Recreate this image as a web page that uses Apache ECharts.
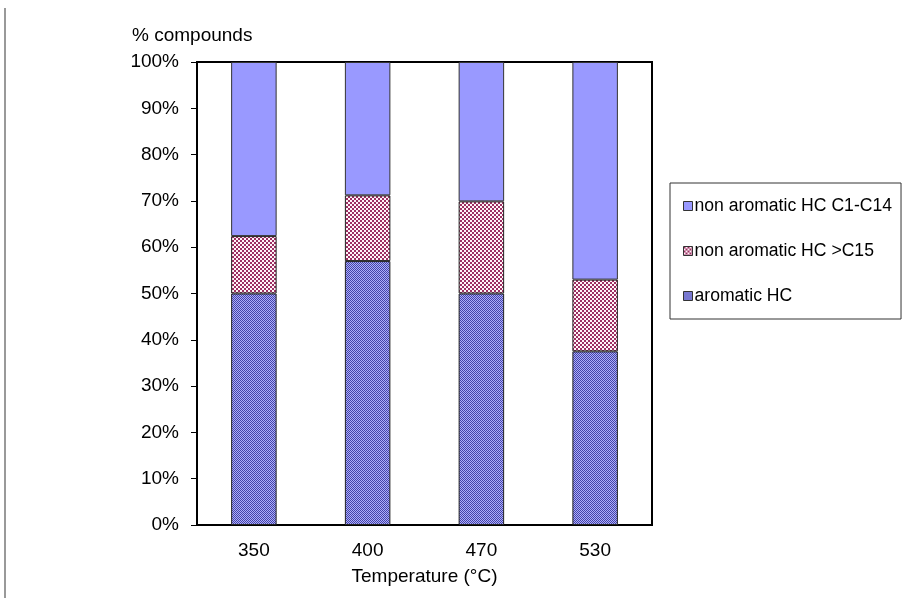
<!DOCTYPE html>
<html>
<head>
<meta charset="utf-8">
<style>
  html, body { margin: 0; padding: 0; background: #fff; }
  #chart { width: 918px; height: 604px; }
</style>
<script src="https://cdn.jsdelivr.net/npm/echarts@6/dist/echarts.min.js"></script>
</head>
<body>
<div id="chart"></div>
<script>
// Temperatures (°C) on the category axis
const temperatures = ['350', '400', '470', '530'];
// Share of each compound class, % of total (stacked to 100)
const aromaticHC = [50, 57, 50, 37.5];
const nonAromaticC15 = [12.4, 14.2, 19.9, 15.5];
const nonAromaticC1C14 = [37.6, 28.8, 30.1, 47.0];
const seriesNames = ['aromatic HC', 'non aromatic HC >C15', 'non aromatic HC C1-C14'];

// Small checkerboard tiles used as bar fills
function checker(size, cell, c1, c2) {
  const cv = document.createElement('canvas');
  cv.width = size; cv.height = size;
  const ctx = cv.getContext('2d');
  ctx.fillStyle = c2;
  ctx.fillRect(0, 0, size, size);
  ctx.fillStyle = c1;
  for (let y = 0; y < size; y += cell) {
    for (let x = 0; x < size; x += cell) {
      if (((x / cell) + (y / cell)) % 2 === 0) ctx.fillRect(x, y, cell, cell);
    }
  }
  return { image: cv, repeat: 'repeat' };
}
const maroonChecker = checker(4, 2, '#9c2f62', '#fff4f8');
const blueChecker = checker(2, 1, '#4444a8', '#adadfa');

const font = 'Liberation Sans, Arial, sans-serif';
const chart = echarts.init(document.getElementById('chart'), null, { renderer: 'canvas' });

chart.setOption({
  animation: false,
  backgroundColor: '#fff',
  title: {
    text: '% compounds',
    left: 132,
    top: 26,
    padding: 0,
    textStyle: { fontFamily: font, fontSize: 19, fontWeight: 'normal', color: '#000' }
  },
  grid: {
    left: 197, right: 266, top: 62, bottom: 79,
    show: true, borderColor: '#000', borderWidth: 2, backgroundColor: 'transparent'
  },
  legend: {
    orient: 'vertical',
    left: 670,
    top: 183,
    data: [seriesNames[2], seriesNames[1], seriesNames[0]],
    icon: 'rect',
    itemWidth: 9,
    itemHeight: 9,
    itemGap: 27,
    padding: [14, 9, 14, 13],
    borderColor: '#333',
    borderWidth: 1,
    textStyle: { fontFamily: font, fontSize: 17.6, color: '#000', lineHeight: 18, padding: [0, 0, 0, -3] },
    itemStyle: { borderColor: '#333', borderWidth: 1 }
  },
  xAxis: {
    type: 'category',
    data: temperatures,
    name: 'Temperature (°C)',
    nameLocation: 'middle',
    nameGap: 42,
    nameTextStyle: { fontFamily: font, fontSize: 19, color: '#000' },
    axisLine: { lineStyle: { color: '#000', width: 2 } },
    axisTick: { length: 6, lineStyle: { color: '#999', width: 1 } },
    axisLabel: { fontFamily: font, fontSize: 19, color: '#000', margin: 16 }
  },
  yAxis: {
    type: 'value',
    min: 0,
    max: 100,
    interval: 10,
    axisLine: { show: true, lineStyle: { color: '#000', width: 2 } },
    axisTick: { show: true, length: 6, lineStyle: { color: '#000', width: 1 } },
    splitLine: { show: false },
    axisLabel: { fontFamily: font, fontSize: 19, color: '#000', margin: 18, formatter: '{value}%' }
  },
  series: [
    {
      name: seriesNames[0], type: 'bar', stack: 'total', barWidth: '40%',
      data: aromaticHC,
      itemStyle: { color: blueChecker, borderColor: '#222', borderWidth: 1 }
    },
    {
      name: seriesNames[1], type: 'bar', stack: 'total', barWidth: '40%',
      data: nonAromaticC15,
      itemStyle: { color: maroonChecker, borderColor: '#222', borderWidth: 1 }
    },
    {
      name: seriesNames[2], type: 'bar', stack: 'total', barWidth: '40%',
      data: nonAromaticC1C14,
      itemStyle: { color: '#9999ff', borderColor: '#333', borderWidth: 1 }
    }
  ],
  graphic: [
    {
      type: 'line',
      shape: { x1: 5, y1: 8, x2: 5, y2: 598 },
      style: { stroke: '#999', lineWidth: 2 },
      silent: true
    }
  ]
});
</script>
</body>
</html>
